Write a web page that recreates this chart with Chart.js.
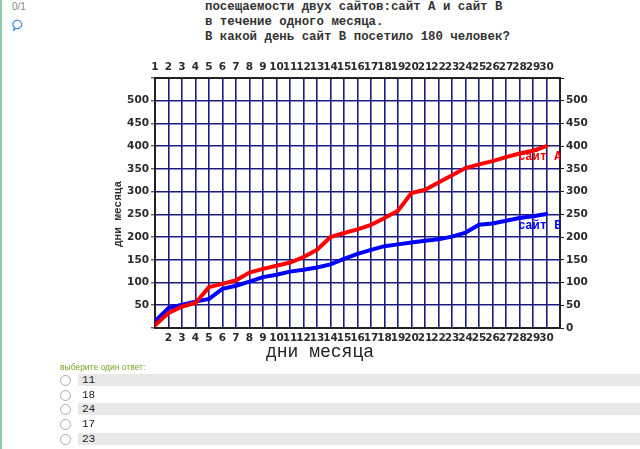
<!DOCTYPE html>
<html>
<head>
<meta charset="utf-8">
<script src="https://cdn.jsdelivr.net/npm/chart.js@4.4.0/dist/chart.umd.min.js"></script>
<style>
  html, body { margin: 0; padding: 0; background: #fff; }
  body { width: 640px; height: 449px; position: relative; overflow: hidden; font-family: "Liberation Sans", Arial, sans-serif; }
  .edge { position: absolute; left: 0; top: 0; width: 2px; height: 449px; background: #8fcfae; }
  .grade { position: absolute; left: 12px; top: 1px; font-size: 10px; color: #888; }
  .flag { position: absolute; left: 11px; top: 19px; }
  .question { position: absolute; left: 205px; top: 0; font: bold 12.4px/15px "Liberation Mono", monospace; color: #333; white-space: pre; }
  .ytitle { position: absolute; left: 82px; top: 208px; width: 72px; text-align: center; transform: rotate(-90deg); font: bold 11px "Liberation Mono", monospace; color: #333; white-space: nowrap; }
  .xtitle { position: absolute; left: 266px; top: 342px; font: 18px "Liberation Mono", monospace; color: #222; white-space: nowrap; }
  #chart { position: absolute; left: 100px; top: 50px; }
  .prompt { position: absolute; left: 60px; top: 362px; font-size: 8.5px; color: #7ba428; }
  .opt { position: absolute; left: 60px; width: 580px; height: 11px; }
  .opt .dot { position: absolute; left: 0; top: 0; width: 9px; height: 9px; border: 1px solid #aaa; border-radius: 50%; background: #fff; }
  .opt .bar { position: absolute; left: 18px; top: -1px; right: 0; height: 12px; }
  .opt.shade .bar { background: #e8e8e8; }
  .opt .txt { position: absolute; left: 22px; top: -1px; font: 11px "Liberation Mono", monospace; color: #222; }
</style>
</head>
<body>
<div class="edge"></div>
<div class="grade">0/1</div>
<svg class="flag" width="12" height="13" viewBox="0 0 12 13">
  <path d="M6 1.2a4.6 4.2 0 1 1 -1.6 8.1 L2.6 11.8 L3.3 8.4 A4.6 4.2 0 0 1 6 1.2z" fill="none" stroke="#4a90d9" stroke-width="1.3"/>
</svg>
<div class="question">посещаемости двух сайтов:сайт А и сайт В
в течение одного месяца.
В какой день сайт В посетило 180 человек?</div>

<canvas id="chart" width="540" height="315"></canvas>
<div class="ytitle">дни месяца</div>
<div class="xtitle">дни месяца</div>

<div class="prompt">выберите один ответ:</div>
<div id="options"></div>

<script>
  // Data
  const days = [1, 2, 3, 4, 5, 6, 7, 8, 9, 10, 11, 12, 13, 14, 15, 16, 17, 18, 19, 20, 21, 22, 23, 24, 25, 26, 27, 28, 29, 30];
  const siteA = [6, 33, 47, 55, 90, 97, 105, 122, 130, 137, 144, 156, 172, 200, 209, 217, 227, 242, 258, 297, 304, 320, 336, 352, 360, 367, 376, 384, 390, 400];
  const siteB = [15, 44, 51, 58, 64, 86, 93, 102, 112, 117, 124, 128, 133, 140, 152, 163, 172, 180, 184, 188, 192, 195, 201, 210, 227, 230, 236, 242, 246, 251];
  const seriesNames = ['сайт А', 'сайт В'];
  const answers = ['11', '18', '24', '17', '23'];

  // answer rows
  const optBox = document.getElementById('options');
  answers.forEach((a, i) => {
    const row = document.createElement('div');
    row.className = 'opt' + (i % 2 === 0 ? ' shade' : '');
    row.style.top = (375 + i * 14.7) + 'px';
    row.innerHTML = '<div class="bar"></div><div class="dot"></div><div class="txt">' + a + '</div>';
    optBox.appendChild(row);
  });

  const gridColor = '#1c1c80';
  const tickFont = { family: '"DejaVu Sans", sans-serif', size: 10.5, weight: 'bold' };

  const seriesLabels = {
    id: 'seriesLabels',
    afterDatasetsDraw(chart) {
      const { ctx, chartArea, scales } = chart;
      ctx.save();
      ctx.beginPath();
      ctx.rect(chartArea.left, chartArea.top, chartArea.right - chartArea.left, chartArea.bottom - chartArea.top);
      ctx.clip();
      ctx.font = 'bold 12px "Liberation Mono", monospace';
      ctx.textBaseline = 'middle';
      const places = [[27.9, 377, '#ff0000'], [27.9, 224, '#0000ff']];
      places.forEach((p, i) => {
        ctx.fillStyle = p[2];
        ctx.fillText(seriesNames[i], scales.x.getPixelForValue(p[0]), scales.y.getPixelForValue(p[1]));
      });
      ctx.restore();
    }
  };

  const ctx = document.getElementById('chart');

  // eslint-disable-next-line no-unused-vars
  const myChart = new Chart(ctx, {
    type: 'line',
    data: {
      datasets: [{
        label: seriesNames[0],
        data: days.map((d, i) => ({ x: d, y: siteA[i] })),
        borderColor: '#ff0000',
        backgroundColor: '#ff0000',
        borderWidth: 4,
        pointRadius: 1.8,
        pointBorderWidth: 0,
        lineTension: 0
      }, {
        label: seriesNames[1],
        data: days.map((d, i) => ({ x: d, y: siteB[i] })),
        borderColor: '#0000ff',
        backgroundColor: '#0000ff',
        borderWidth: 4,
        pointRadius: 1.8,
        pointBorderWidth: 0,
        lineTension: 0
      }]
    },
    options: {
      responsive: false,
      animation: false,
      layout: { padding: 0 },
      plugins: {
        legend: { display: false },
        tooltip: { enabled: false }
      },
      scales: {
        x: {
          type: 'linear',
          position: 'bottom',
          min: 1,
          max: 31,
          afterFit(s) { s.height = 37; },
          ticks: {
            stepSize: 1,
            autoSkip: false,
            maxRotation: 0,
            padding: 4,
            color: '#2a2a2a',
            font: tickFont,
            callback: (v) => (v === 1 || v === 31) ? '' : String(v)
          },
          grid: { color: gridColor, lineWidth: 1.6, drawTicks: false },
          border: { color: '#222', width: 2 }
        },
        xTop: {
          type: 'linear',
          position: 'top',
          min: 1,
          max: 31,
          afterFit(s) { s.height = 28; },
          ticks: {
            stepSize: 1,
            autoSkip: false,
            maxRotation: 0,
            padding: 4,
            color: '#2a2a2a',
            font: tickFont,
            callback: (v) => v === 31 ? '' : String(v)
          },
          grid: { drawOnChartArea: false, drawTicks: false },
          border: { color: '#222', width: 2 }
        },
        y: {
          position: 'left',
          min: 0,
          max: 550,
          afterFit(s) { s.width = 55; },
          ticks: {
            stepSize: 50,
            padding: 2,
            color: '#2a2a2a',
            font: tickFont,
            callback: (v) => (v === 0 || v === 550) ? '' : String(v)
          },
          grid: { color: gridColor, lineWidth: 1.6, tickLength: 4, tickColor: '#222', tickWidth: 1 },
          border: { color: '#222', width: 2 }
        },
        yRight: {
          position: 'right',
          min: 0,
          max: 550,
          afterFit(s) { s.width = 80; },
          ticks: {
            stepSize: 50,
            padding: 2,
            color: '#2a2a2a',
            font: tickFont,
            callback: (v) => v === 550 ? '' : String(v)
          },
          grid: { drawOnChartArea: false, tickLength: 4, tickColor: '#222', tickWidth: 1 },
          border: { color: '#222', width: 2 }
        }
      }
    },
    plugins: [seriesLabels]
  });
</script>
</body>
</html>
